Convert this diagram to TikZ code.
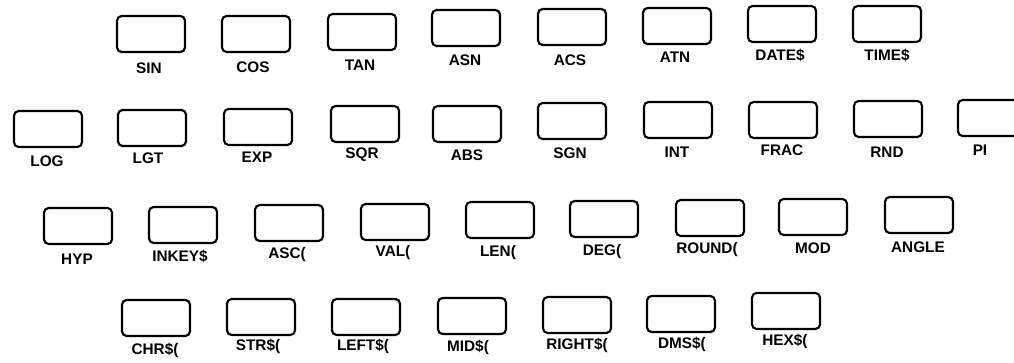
\documentclass[tikz,border=0pt]{standalone}
\usepackage{fontspec}
\setmainfont{Liberation Sans}
\tikzset{
  keybox/.style={draw=black, line width=1.6pt, rounded corners=3.5pt, minimum width=51pt, minimum height=27pt, inner sep=0pt},
  keylabel/.style={font=\fontsize{11.5}{13}\selectfont\bfseries, inner sep=0pt, anchor=center}
}
\newcommand\keycap[6]{%
  \node[keybox] (#1) at (#2,#3) {};
  \node[keylabel] (#1-l) at (#4,#5) {#6};
}
\begin{document}
\begin{tikzpicture}[x=0.75pt,y=-0.75pt]
\useasboundingbox (0,0) rectangle (1014,363);
\clip (0,0) rectangle (1014,363);
% Row 1
\keycap{sin}{151}{34}{149}{68}{SIN}
\keycap{cos}{256}{34}{253}{67}{COS}
\keycap{tan}{362}{32}{360}{65}{TAN}
\keycap{asn}{466}{28}{465}{60}{ASN}
\keycap{acs}{572}{27}{570}{60}{ACS}
\keycap{atn}{677}{26}{675}{57}{ATN}
\keycap{date}{782}{24}{780}{55}{DATE\$}
\keycap{time}{887}{24}{887}{55}{TIME\$}
% Row 2
\keycap{log}{48}{129}{47}{161}{LOG}
\keycap{lgt}{152}{128}{148}{158}{LGT}
\keycap{exp}{258}{127}{257}{157}{EXP}
\keycap{sqr}{365}{124}{362}{155}{SQR}
\keycap{abs}{467}{124}{467}{155}{ABS}
\keycap{sgn}{572}{121}{570}{153}{SGN}
\keycap{int}{678}{120}{677}{152}{INT}
\keycap{frac}{783}{120}{782}{150}{FRAC}
\keycap{rnd}{888}{119}{887}{152}{RND}
\keycap{pi}{992}{118}{980}{150}{PI}
% Row 3
\keycap{hyp}{78}{226}{77}{259}{HYP}
\keycap{inkey}{183}{225}{180}{256}{INKEY\$}
\keycap{asc}{289}{223}{287}{255}{ASC(}
\keycap{val}{395}{222}{393}{253}{VAL(}
\keycap{len}{500}{220}{498}{253}{LEN(}
\keycap{deg}{604}{219}{602}{252}{DEG(}
\keycap{round}{710}{218}{707}{250}{ROUND(}
\keycap{mod}{813}{217}{813}{248}{MOD}
\keycap{angle}{919}{215}{918}{247}{ANGLE}
% Row 4
\keycap{chr}{156}{318}{155}{350}{CHR\$(}
\keycap{str}{261}{317}{258}{346}{STR\$(}
\keycap{left}{366}{317}{363}{346}{LEFT\$(}
\keycap{mid}{472}{316}{468}{347}{MID\$(}
\keycap{right}{577}{315}{577}{345}{RIGHT\$(}
\keycap{dms}{681}{314}{682}{344}{DMS\$(}
\keycap{hex}{786}{311}{785}{341}{HEX\$(}
\end{tikzpicture}
\end{document}
